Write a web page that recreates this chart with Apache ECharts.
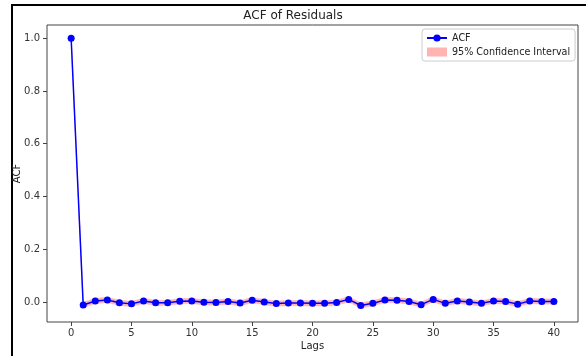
<!DOCTYPE html>
<html>
<head>
<meta charset="utf-8">
<script src="https://cdn.jsdelivr.net/npm/echarts@6/dist/echarts.min.js"></script>
<style>html,body{margin:0;padding:0;background:#fff;}#c{width:586px;height:356px;}</style>
</head>
<body>
<div id="c"></div>
<script>
var lags = [0,1,2,3,4,5,6,7,8,9,10,11,12,13,14,15,16,17,18,19,20,21,22,23,24,25,26,27,28,29,30,31,32,33,34,35,36,37,38,39,40];
var acf = [1.0,-0.011,0.004,0.008,-0.003,-0.007,0.004,-0.003,-0.003,0.003,0.004,-0.001,-0.002,0.002,-0.004,0.007,0.0,-0.006,-0.004,-0.004,-0.005,-0.005,-0.002,0.010,-0.013,-0.005,0.008,0.007,0.002,-0.010,0.010,-0.005,0.004,0.000,-0.005,0.004,0.002,-0.008,0.004,0.002,0.002];
var ciLower = [1.0,-0.021,-0.006,-0.002,-0.013,-0.017,-0.006,-0.013,-0.013,-0.007,-0.006,-0.011,-0.012,-0.008,-0.014,-0.003,-0.010,-0.016,-0.014,-0.014,-0.015,-0.015,-0.012,0.000,-0.023,-0.015,-0.002,-0.003,-0.008,-0.020,0.000,-0.015,-0.006,-0.010,-0.015,-0.006,-0.008,-0.018,-0.006,-0.008,-0.008];
var ciUpper = [1.0,-0.001,0.014,0.018,0.007,0.003,0.014,0.007,0.007,0.013,0.014,0.009,0.008,0.012,0.006,0.017,0.010,0.004,0.006,0.006,0.005,0.005,0.008,0.020,-0.003,0.005,0.018,0.017,0.012,0.000,0.020,0.005,0.014,0.010,0.005,0.014,0.012,0.002,0.014,0.012,0.012];
var xTicks = [0,5,10,15,20,25,30,35,40];
var yTicks = [0.0,0.2,0.4,0.6,0.8,1.0];

var font = 'DejaVu Sans';
var bandColor = '#ffb3b3';
var bandData = lags.map(function(l,i){return [l, ciLower[i], ciUpper[i]];});
var acfData = lags.map(function(l,i){return [l, acf[i]];});

var chart = echarts.init(document.getElementById('c'), null, {renderer:'canvas'});
chart.setOption({
  animation:false,
  backgroundColor:'#fff',
  textStyle:{fontFamily:font},
  graphic:[{type:'rect', z:-10, shape:{x:12,y:5,width:640,height:420}, style:{fill:'none',stroke:'#000',lineWidth:2}}],
  title:{text:'ACF of Residuals', left:'center', top:5, textStyle:{fontFamily:font,fontSize:12,fontWeight:'normal',color:'#222'}},
  grid:{left:47, right:8, top:25, bottom:34, outerBoundsMode:'none', containLabel:false, show:true, borderColor:'#444', borderWidth:1, backgroundColor:'transparent'},
  legend:{
    left:422, top:29, orient:'vertical', itemGap:4, itemWidth:20, itemHeight:9,
    padding:[4,5,4,4], borderColor:'#ccc', borderWidth:1, borderRadius:3,
    textStyle:{fontFamily:font,fontSize:9.6,color:'#222'},
    data:[{name:'ACF'},{name:'95% Confidence Interval', icon:'rect', itemStyle:{color:bandColor}}]
  },
  xAxis:{
    type:'value', min:-2, max:42,
    name:'Lags', nameLocation:'middle', nameGap:19, nameMoveOverlap:false, nameTextStyle:{fontFamily:font,fontSize:10,color:'#222'},
    axisLine:{show:false, onZero:false}, splitLine:{show:false},
    axisTick:{show:true, length:4, lineStyle:{color:'#444'}, customValues:xTicks},
    axisLabel:{fontFamily:font,fontSize:10,color:'#333',margin:6, customValues:xTicks}
  },
  yAxis:{
    type:'value', min:-0.0757, max:1.05,
    name:'ACF', nameLocation:'middle', nameGap:25, nameMoveOverlap:false, nameTextStyle:{fontFamily:font,fontSize:10,color:'#222'},
    axisLine:{show:false, onZero:false}, splitLine:{show:false},
    axisTick:{show:true, length:4, lineStyle:{color:'#444'}, customValues:yTicks},
    axisLabel:{fontFamily:font,fontSize:10,color:'#333',margin:7, customValues:yTicks, formatter:function(v){return v.toFixed(1);}}
  },
  series:[
    {
      name:'95% Confidence Interval', type:'custom', data:bandData, z:1, silent:true,
      itemStyle:{color:bandColor},
      encode:{x:0, y:[1,2]},
      renderItem:function(params, api){
        var i = params.dataIndex;
        if (i === 0) return null;
        var x0 = api.value(0, i-1), x1 = api.value(0, i);
        var pts = [
          api.coord([x0, bandData[i-1][2]]),
          api.coord([x1, api.value(2, i)]),
          api.coord([x1, api.value(1, i)]),
          api.coord([x0, bandData[i-1][1]])
        ];
        return {type:'polygon', shape:{points:pts}, style:{fill:bandColor, stroke:bandColor, lineWidth:0.5}};
      }
    },
    {name:'ACF', type:'line', data:acfData, symbol:'circle', symbolSize:7, showAllSymbol:true, lineStyle:{color:'#0000ff', width:1.5}, itemStyle:{color:'#0000ff'}, z:3}
  ]
});
</script>
</body>
</html>
